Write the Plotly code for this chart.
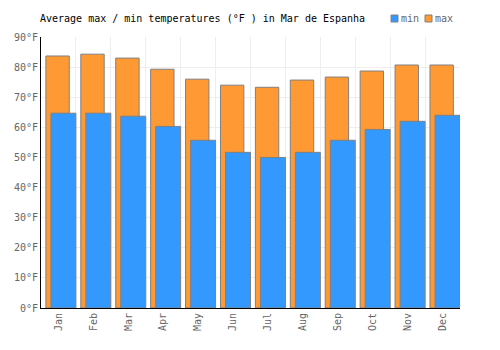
import plotly.graph_objects as go

months = ["Jan", "Feb", "Mar", "Apr", "May", "Jun", "Jul", "Aug", "Sep", "Oct", "Nov", "Dec"]
max_temp = [83.7, 84.3, 83.0, 79.3, 76.0, 74.0, 73.3, 75.7, 76.7, 78.7, 80.7, 80.7]
min_temp = [64.7, 64.7, 63.7, 60.3, 55.7, 51.7, 50.0, 51.7, 55.7, 59.3, 62.0, 64.0]

FONT = "DejaVu Sans Mono"
FS = 10
MAX_COLOR = "#ff9933"
MIN_COLOR = "#3399ff"

fig = go.Figure()
fig.add_trace(go.Bar(
    x=months, y=max_temp, name="max",
    marker=dict(color=MAX_COLOR, line=dict(color="#808080", width=1)),
    offset=-0.36, width=0.67, showlegend=False,
))
fig.add_trace(go.Bar(
    x=months, y=min_temp, name="min",
    marker=dict(color=MIN_COLOR, line=dict(color="#808080", width=1)),
    offset=-0.215, width=0.715, showlegend=False,
))

# legend drawn in pixel coordinates
shapes = []
annotations = []
for x0, color, label in [(391, MIN_COLOR, "min"), (425, MAX_COLOR, "max")]:
    shapes.append(dict(type="rect", xref="paper", yref="paper",
                       x0=(x0 - 41) / 419, x1=(x0 + 7 - 41) / 419,
                       y0=(308 - 22) / 271, y1=(308 - 15) / 271,
                       fillcolor=color, line=dict(color="#808080", width=1)))
    annotations.append(dict(text=label, xref="paper", yref="paper",
                            x=(x0 + 8 - 41) / 419, y=(308 - 18.5) / 271,
                            xanchor="left", yanchor="middle", showarrow=False,
                            font=dict(family=FONT, size=FS, color="#666666")))

fig.update_layout(
    width=500, height=350,
    margin=dict(l=41, r=40, t=37, b=42),
    barmode="overlay",
    paper_bgcolor="white", plot_bgcolor="white",
    font=dict(family=FONT, size=FS, color="#666666"),
    title=dict(text="Average max / min temperatures (°F ) in Mar de Espanha",
               x=40/500, xanchor="left", y=1-18.5/350, yanchor="middle",
               font=dict(family=FONT, size=FS, color="#000000")),
    showlegend=False,
    shapes=shapes,
    annotations=annotations,
    xaxis=dict(
        type="category", tickson="boundaries", showgrid=True, gridcolor="#eeeeee",
        showline=True, linecolor="#000000", linewidth=1, ticks="", tickangle=-90,
        range=[-0.5, 11.5], tickfont=dict(family=FONT, size=FS, color="#666666"),
    ),
    yaxis=dict(
        range=[0, 90], dtick=10, ticksuffix="°F", showgrid=True, gridcolor="#eeeeee",
        showline=True, linecolor="#000000", linewidth=1, ticks="", zeroline=False,
        tickfont=dict(family=FONT, size=FS, color="#666666"),
    ),
)

fig.write_html("out.html")
